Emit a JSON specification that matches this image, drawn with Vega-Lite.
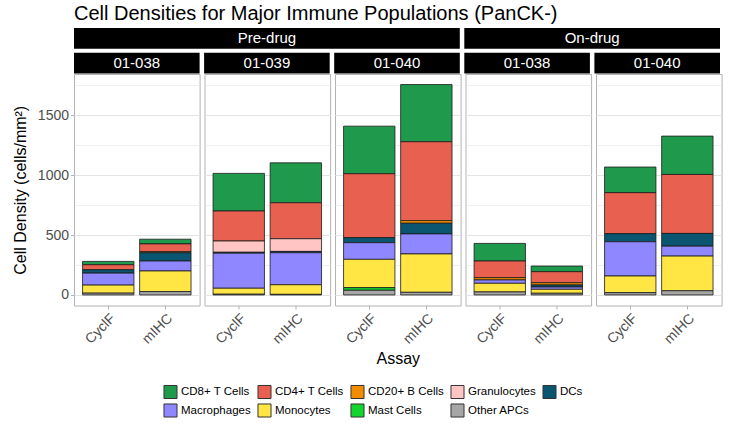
{
  "$schema": "https://vega.github.io/schema/vega-lite/v6.json",
  "background": "white",
  "padding": {"left": 11, "top": 4, "right": 6, "bottom": 4},
  "title": {
    "text": "Cell Densities for Major Immune Populations (PanCK-)",
    "anchor": "start",
    "frame": "group",
    "fontSize": 20,
    "fontWeight": "normal",
    "font": "Liberation Sans",
    "color": "black",
    "offset": 4
  },
  "datasets": {
    "strips": [
      {"tier": "period", "label": "Pre-drug", "first": "Pre-drug 01-038", "last": "Pre-drug 01-040", "mid": "Pre-drug 01-039"},
      {"tier": "period", "label": "On-drug", "first": "On-drug 01-038", "last": "On-drug 01-040", "mid": "On-drug 01-038"},
      {"tier": "subject", "label": "01-038", "first": "Pre-drug 01-038", "last": "Pre-drug 01-038", "mid": "Pre-drug 01-038"},
      {"tier": "subject", "label": "01-039", "first": "Pre-drug 01-039", "last": "Pre-drug 01-039", "mid": "Pre-drug 01-039"},
      {"tier": "subject", "label": "01-040", "first": "Pre-drug 01-040", "last": "Pre-drug 01-040", "mid": "Pre-drug 01-040"},
      {"tier": "subject", "label": "01-038", "first": "On-drug 01-038", "last": "On-drug 01-038", "mid": "On-drug 01-038"},
      {"tier": "subject", "label": "01-040", "first": "On-drug 01-040", "last": "On-drug 01-040", "mid": "On-drug 01-040"}
    ],
    "cells": [
      {"period": "Pre-drug", "subject": "01-038", "assay": "CyclF", "cell": "CD8+ T Cells", "level": 1, "density": 28},
      {"period": "Pre-drug", "subject": "01-038", "assay": "CyclF", "cell": "CD4+ T Cells", "level": 2, "density": 42},
      {"period": "Pre-drug", "subject": "01-038", "assay": "CyclF", "cell": "DCs", "level": 5, "density": 28},
      {"period": "Pre-drug", "subject": "01-038", "assay": "CyclF", "cell": "Macrophages", "level": 6, "density": 100},
      {"period": "Pre-drug", "subject": "01-038", "assay": "CyclF", "cell": "Monocytes", "level": 7, "density": 67},
      {"period": "Pre-drug", "subject": "01-038", "assay": "CyclF", "cell": "Other APCs", "level": 9, "density": 15},

      {"period": "Pre-drug", "subject": "01-038", "assay": "mIHC", "cell": "CD8+ T Cells", "level": 1, "density": 39},
      {"period": "Pre-drug", "subject": "01-038", "assay": "mIHC", "cell": "CD4+ T Cells", "level": 2, "density": 64},
      {"period": "Pre-drug", "subject": "01-038", "assay": "mIHC", "cell": "CD20+ B Cells", "level": 3, "density": 10},
      {"period": "Pre-drug", "subject": "01-038", "assay": "mIHC", "cell": "DCs", "level": 5, "density": 69},
      {"period": "Pre-drug", "subject": "01-038", "assay": "mIHC", "cell": "Macrophages", "level": 6, "density": 83},
      {"period": "Pre-drug", "subject": "01-038", "assay": "mIHC", "cell": "Monocytes", "level": 7, "density": 172},
      {"period": "Pre-drug", "subject": "01-038", "assay": "mIHC", "cell": "Other APCs", "level": 9, "density": 28},

      {"period": "Pre-drug", "subject": "01-039", "assay": "CyclF", "cell": "CD8+ T Cells", "level": 1, "density": 314},
      {"period": "Pre-drug", "subject": "01-039", "assay": "CyclF", "cell": "CD4+ T Cells", "level": 2, "density": 250},
      {"period": "Pre-drug", "subject": "01-039", "assay": "CyclF", "cell": "Granulocytes", "level": 4, "density": 94},
      {"period": "Pre-drug", "subject": "01-039", "assay": "CyclF", "cell": "DCs", "level": 5, "density": 8},
      {"period": "Pre-drug", "subject": "01-039", "assay": "CyclF", "cell": "Macrophages", "level": 6, "density": 292},
      {"period": "Pre-drug", "subject": "01-039", "assay": "CyclF", "cell": "Monocytes", "level": 7, "density": 50},
      {"period": "Pre-drug", "subject": "01-039", "assay": "CyclF", "cell": "Other APCs", "level": 9, "density": 6},

      {"period": "Pre-drug", "subject": "01-039", "assay": "mIHC", "cell": "CD8+ T Cells", "level": 1, "density": 333},
      {"period": "Pre-drug", "subject": "01-039", "assay": "mIHC", "cell": "CD4+ T Cells", "level": 2, "density": 300},
      {"period": "Pre-drug", "subject": "01-039", "assay": "mIHC", "cell": "Granulocytes", "level": 4, "density": 106},
      {"period": "Pre-drug", "subject": "01-039", "assay": "mIHC", "cell": "DCs", "level": 5, "density": 11},
      {"period": "Pre-drug", "subject": "01-039", "assay": "mIHC", "cell": "Macrophages", "level": 6, "density": 267},
      {"period": "Pre-drug", "subject": "01-039", "assay": "mIHC", "cell": "Monocytes", "level": 7, "density": 80},
      {"period": "Pre-drug", "subject": "01-039", "assay": "mIHC", "cell": "Other APCs", "level": 9, "density": 5},

      {"period": "Pre-drug", "subject": "01-040", "assay": "CyclF", "cell": "CD8+ T Cells", "level": 1, "density": 397},
      {"period": "Pre-drug", "subject": "01-040", "assay": "CyclF", "cell": "CD4+ T Cells", "level": 2, "density": 533},
      {"period": "Pre-drug", "subject": "01-040", "assay": "CyclF", "cell": "DCs", "level": 5, "density": 42},
      {"period": "Pre-drug", "subject": "01-040", "assay": "CyclF", "cell": "Macrophages", "level": 6, "density": 139},
      {"period": "Pre-drug", "subject": "01-040", "assay": "CyclF", "cell": "Monocytes", "level": 7, "density": 236},
      {"period": "Pre-drug", "subject": "01-040", "assay": "CyclF", "cell": "Mast Cells", "level": 8, "density": 22},
      {"period": "Pre-drug", "subject": "01-040", "assay": "CyclF", "cell": "Other APCs", "level": 9, "density": 39},

      {"period": "Pre-drug", "subject": "01-040", "assay": "mIHC", "cell": "CD8+ T Cells", "level": 1, "density": 477},
      {"period": "Pre-drug", "subject": "01-040", "assay": "mIHC", "cell": "CD4+ T Cells", "level": 2, "density": 658},
      {"period": "Pre-drug", "subject": "01-040", "assay": "mIHC", "cell": "CD20+ B Cells", "level": 3, "density": 22},
      {"period": "Pre-drug", "subject": "01-040", "assay": "mIHC", "cell": "DCs", "level": 5, "density": 89},
      {"period": "Pre-drug", "subject": "01-040", "assay": "mIHC", "cell": "Macrophages", "level": 6, "density": 167},
      {"period": "Pre-drug", "subject": "01-040", "assay": "mIHC", "cell": "Monocytes", "level": 7, "density": 320},
      {"period": "Pre-drug", "subject": "01-040", "assay": "mIHC", "cell": "Other APCs", "level": 9, "density": 22},

      {"period": "On-drug", "subject": "01-038", "assay": "CyclF", "cell": "CD8+ T Cells", "level": 1, "density": 147},
      {"period": "On-drug", "subject": "01-038", "assay": "CyclF", "cell": "CD4+ T Cells", "level": 2, "density": 139},
      {"period": "On-drug", "subject": "01-038", "assay": "CyclF", "cell": "CD20+ B Cells", "level": 3, "density": 19},
      {"period": "On-drug", "subject": "01-038", "assay": "CyclF", "cell": "Macrophages", "level": 6, "density": 28},
      {"period": "On-drug", "subject": "01-038", "assay": "CyclF", "cell": "Monocytes", "level": 7, "density": 72},
      {"period": "On-drug", "subject": "01-038", "assay": "CyclF", "cell": "Other APCs", "level": 9, "density": 25},

      {"period": "On-drug", "subject": "01-038", "assay": "mIHC", "cell": "CD8+ T Cells", "level": 1, "density": 47},
      {"period": "On-drug", "subject": "01-038", "assay": "mIHC", "cell": "CD4+ T Cells", "level": 2, "density": 92},
      {"period": "On-drug", "subject": "01-038", "assay": "mIHC", "cell": "CD20+ B Cells", "level": 3, "density": 19},
      {"period": "On-drug", "subject": "01-038", "assay": "mIHC", "cell": "DCs", "level": 5, "density": 17},
      {"period": "On-drug", "subject": "01-038", "assay": "mIHC", "cell": "Macrophages", "level": 6, "density": 19},
      {"period": "On-drug", "subject": "01-038", "assay": "mIHC", "cell": "Monocytes", "level": 7, "density": 33},
      {"period": "On-drug", "subject": "01-038", "assay": "mIHC", "cell": "Other APCs", "level": 9, "density": 14},

      {"period": "On-drug", "subject": "01-040", "assay": "CyclF", "cell": "CD8+ T Cells", "level": 1, "density": 214},
      {"period": "On-drug", "subject": "01-040", "assay": "CyclF", "cell": "CD4+ T Cells", "level": 2, "density": 342},
      {"period": "On-drug", "subject": "01-040", "assay": "CyclF", "cell": "DCs", "level": 5, "density": 67},
      {"period": "On-drug", "subject": "01-040", "assay": "CyclF", "cell": "Macrophages", "level": 6, "density": 286},
      {"period": "On-drug", "subject": "01-040", "assay": "CyclF", "cell": "Monocytes", "level": 7, "density": 139},
      {"period": "On-drug", "subject": "01-040", "assay": "CyclF", "cell": "Other APCs", "level": 9, "density": 19},

      {"period": "On-drug", "subject": "01-040", "assay": "mIHC", "cell": "CD8+ T Cells", "level": 1, "density": 320},
      {"period": "On-drug", "subject": "01-040", "assay": "mIHC", "cell": "CD4+ T Cells", "level": 2, "density": 492},
      {"period": "On-drug", "subject": "01-040", "assay": "mIHC", "cell": "DCs", "level": 5, "density": 106},
      {"period": "On-drug", "subject": "01-040", "assay": "mIHC", "cell": "Macrophages", "level": 6, "density": 83},
      {"period": "On-drug", "subject": "01-040", "assay": "mIHC", "cell": "Monocytes", "level": 7, "density": 289},
      {"period": "On-drug", "subject": "01-040", "assay": "mIHC", "cell": "Other APCs", "level": 9, "density": 35}
    ]
  },
  "bounds": "flush",
  "spacing": 0,
  "vconcat": [
    {
      "width": 646, "height": 45.5,
      "data": {"name": "strips"},
      "view": {"fill": null, "stroke": null},
      "encoding": {
        "y": {"field": "tier", "type": "nominal", "axis": null,
          "scale": {"domain": ["period", "subject"], "paddingInner": 0.1616, "paddingOuter": 0}}
      },
      "layer": [
        {
          "mark": {"type": "rect", "color": "black"},
          "encoding": {
            "x": {"field": "first", "type": "nominal", "axis": null, "bandPosition": 0,
              "scale": {"domain": ["Pre-drug 01-038", "Pre-drug 01-039", "Pre-drug 01-040", "On-drug 01-038", "On-drug 01-040"], "paddingInner": 0.0346, "paddingOuter": 0}},
            "x2": {"field": "last", "bandPosition": 1}
          }
        },
        {
          "transform": [{"filter": "datum.label !== 'On-drug'"}],
          "mark": {"type": "text", "color": "white", "fontSize": 15, "baseline": "middle", "align": "center"},
          "encoding": {
            "x": {"field": "mid", "type": "nominal", "axis": null, "bandPosition": 0.5},
            "text": {"field": "label"}
          }
        },
        {
          "transform": [{"filter": "datum.label === 'On-drug'"}],
          "mark": {"type": "text", "color": "white", "fontSize": 15, "baseline": "middle", "align": "center"},
          "encoding": {
            "x": {"field": "mid", "type": "nominal", "axis": null, "bandPosition": 1.018},
            "text": {"field": "label"}
          }
        }
      ]
    },
    {
      "bounds": "flush",
      "spacing": 4.5,
      "resolve": {"scale": {"x": "independent", "y": "independent", "color": "shared"}},
      "hconcat": [
        {
          "width": 125.6, "height": 231.5,
          "data": {"name": "cells"},
          "transform": [{"filter": "datum.period === 'Pre-drug' && datum.subject === '01-038'"}],
          "mark": {"type": "bar", "stroke": "#1a1a1a", "strokeWidth": 0.8},
          "encoding": {
            "x": {"field": "assay", "type": "nominal", "scale": {"domain": ["CyclF", "mIHC"], "paddingInner": 0.1, "paddingOuter": 0.15}, "axis": {"title": null}},
            "y": {"field": "density", "type": "quantitative", "stack": "zero",
              "scale": {"domain": [-88, 1843], "nice": false, "zero": false},
              "axis": {
                "title": "Cell Density (cells/mm²)",
                "format": "d",
                "values": [0, 250, 500, 750, 1000, 1250, 1500, 1750],
                "labelExpr": "datum.value % 500 === 0 ? datum.label : ''",
                "tickOpacity": {"condition": {"test": "datum.value % 500 === 0", "value": 1}, "value": 0},
                "gridWidth": {"condition": {"test": "datum.value % 500 === 0", "value": 1}, "value": 0.6}
              }},
            "color": {"field": "cell", "type": "nominal",
              "scale": {
                "domain": ["CD8+ T Cells", "CD4+ T Cells", "CD20+ B Cells", "Granulocytes", "DCs", "Macrophages", "Monocytes", "Mast Cells", "Other APCs"],
                "range": ["#1F9A4D", "#E8604F", "#F28C00", "#FFC4C4", "#0A5570", "#8F87FF", "#FFE645", "#12D42E", "#A6A6A6"]
              },
              "legend": {"title": null}},
            "order": {"field": "level", "type": "quantitative", "sort": "descending"}
          }
        },
        {
          "width": 125.6, "height": 231.5,
          "data": {"name": "cells"},
          "transform": [{"filter": "datum.period === 'Pre-drug' && datum.subject === '01-039'"}],
          "mark": {"type": "bar", "stroke": "#1a1a1a", "strokeWidth": 0.8},
          "encoding": {
            "x": {"field": "assay", "type": "nominal", "scale": {"domain": ["CyclF", "mIHC"], "paddingInner": 0.1, "paddingOuter": 0.15}, "axis": {"title": null}},
            "y": {"field": "density", "type": "quantitative", "stack": "zero",
              "scale": {"domain": [-88, 1843], "nice": false, "zero": false},
              "axis": {
                "title": null, "labels": false, "ticks": false,
                "values": [0, 250, 500, 750, 1000, 1250, 1500, 1750],
                "gridWidth": {"condition": {"test": "datum.value % 500 === 0", "value": 1}, "value": 0.6}
              }},
            "color": {"field": "cell", "type": "nominal",
              "scale": {
                "domain": ["CD8+ T Cells", "CD4+ T Cells", "CD20+ B Cells", "Granulocytes", "DCs", "Macrophages", "Monocytes", "Mast Cells", "Other APCs"],
                "range": ["#1F9A4D", "#E8604F", "#F28C00", "#FFC4C4", "#0A5570", "#8F87FF", "#FFE645", "#12D42E", "#A6A6A6"]
              },
              "legend": {"title": null}},
            "order": {"field": "level", "type": "quantitative", "sort": "descending"}
          }
        },
        {
          "width": 125.6, "height": 231.5,
          "data": {"name": "cells"},
          "transform": [{"filter": "datum.period === 'Pre-drug' && datum.subject === '01-040'"}],
          "mark": {"type": "bar", "stroke": "#1a1a1a", "strokeWidth": 0.8},
          "encoding": {
            "x": {"field": "assay", "type": "nominal", "scale": {"domain": ["CyclF", "mIHC"], "paddingInner": 0.1, "paddingOuter": 0.15}, "axis": {"title": "Assay"}},
            "y": {"field": "density", "type": "quantitative", "stack": "zero",
              "scale": {"domain": [-88, 1843], "nice": false, "zero": false},
              "axis": {
                "title": null, "labels": false, "ticks": false,
                "values": [0, 250, 500, 750, 1000, 1250, 1500, 1750],
                "gridWidth": {"condition": {"test": "datum.value % 500 === 0", "value": 1}, "value": 0.6}
              }},
            "color": {"field": "cell", "type": "nominal",
              "scale": {
                "domain": ["CD8+ T Cells", "CD4+ T Cells", "CD20+ B Cells", "Granulocytes", "DCs", "Macrophages", "Monocytes", "Mast Cells", "Other APCs"],
                "range": ["#1F9A4D", "#E8604F", "#F28C00", "#FFC4C4", "#0A5570", "#8F87FF", "#FFE645", "#12D42E", "#A6A6A6"]
              },
              "legend": {"title": null}},
            "order": {"field": "level", "type": "quantitative", "sort": "descending"}
          }
        },
        {
          "width": 125.6, "height": 231.5,
          "data": {"name": "cells"},
          "transform": [{"filter": "datum.period === 'On-drug' && datum.subject === '01-038'"}],
          "mark": {"type": "bar", "stroke": "#1a1a1a", "strokeWidth": 0.8},
          "encoding": {
            "x": {"field": "assay", "type": "nominal", "scale": {"domain": ["CyclF", "mIHC"], "paddingInner": 0.1, "paddingOuter": 0.15}, "axis": {"title": null}},
            "y": {"field": "density", "type": "quantitative", "stack": "zero",
              "scale": {"domain": [-88, 1843], "nice": false, "zero": false},
              "axis": {
                "title": null, "labels": false, "ticks": false,
                "values": [0, 250, 500, 750, 1000, 1250, 1500, 1750],
                "gridWidth": {"condition": {"test": "datum.value % 500 === 0", "value": 1}, "value": 0.6}
              }},
            "color": {"field": "cell", "type": "nominal",
              "scale": {
                "domain": ["CD8+ T Cells", "CD4+ T Cells", "CD20+ B Cells", "Granulocytes", "DCs", "Macrophages", "Monocytes", "Mast Cells", "Other APCs"],
                "range": ["#1F9A4D", "#E8604F", "#F28C00", "#FFC4C4", "#0A5570", "#8F87FF", "#FFE645", "#12D42E", "#A6A6A6"]
              },
              "legend": {"title": null}},
            "order": {"field": "level", "type": "quantitative", "sort": "descending"}
          }
        },
        {
          "width": 125.6, "height": 231.5,
          "data": {"name": "cells"},
          "transform": [{"filter": "datum.period === 'On-drug' && datum.subject === '01-040'"}],
          "mark": {"type": "bar", "stroke": "#1a1a1a", "strokeWidth": 0.8},
          "encoding": {
            "x": {"field": "assay", "type": "nominal", "scale": {"domain": ["CyclF", "mIHC"], "paddingInner": 0.1, "paddingOuter": 0.15}, "axis": {"title": null}},
            "y": {"field": "density", "type": "quantitative", "stack": "zero",
              "scale": {"domain": [-88, 1843], "nice": false, "zero": false},
              "axis": {
                "title": null, "labels": false, "ticks": false,
                "values": [0, 250, 500, 750, 1000, 1250, 1500, 1750],
                "gridWidth": {"condition": {"test": "datum.value % 500 === 0", "value": 1}, "value": 0.6}
              }},
            "color": {"field": "cell", "type": "nominal",
              "scale": {
                "domain": ["CD8+ T Cells", "CD4+ T Cells", "CD20+ B Cells", "Granulocytes", "DCs", "Macrophages", "Monocytes", "Mast Cells", "Other APCs"],
                "range": ["#1F9A4D", "#E8604F", "#F28C00", "#FFC4C4", "#0A5570", "#8F87FF", "#FFE645", "#12D42E", "#A6A6A6"]
              },
              "legend": {"title": null}},
            "order": {"field": "level", "type": "quantitative", "sort": "descending"}
          }
        }
      ]
    }
  ],
  "config": {
    "font": "Liberation Sans",
    "view": {"stroke": "#b3b3b3", "strokeWidth": 1},
    "axis": {
      "labelFont": "Liberation Sans",
      "titleFont": "Liberation Sans",
      "labelColor": "#4d4d4d",
      "labelFontSize": 14,
      "titleFontSize": 16,
      "titleColor": "black",
      "titleFontWeight": "normal",
      "tickColor": "#b3b3b3",
      "tickSize": 3.5,
      "labelPadding": 2,
      "domain": false
    },
    "axisX": {"grid": false, "labelAngle": -45, "titlePadding": 4},
    "axisY": {"grid": true, "gridColor": "#e4e4e4", "titlePadding": 9},
    "legend": {
      "orient": "none",
      "legendX": 89,
      "legendY": 356,
      "direction": "horizontal",
      "columns": 5,
      "symbolType": "square",
      "symbolSize": 170,
      "symbolStrokeColor": "#333333",
      "symbolStrokeWidth": 1,
      "symbolOpacity": 1,
      "labelFont": "Liberation Sans",
      "labelFontSize": 11.5,
      "labelColor": "black",
      "labelOffset": 3,
      "columnPadding": 4,
      "rowPadding": 0
    }
  }
}
